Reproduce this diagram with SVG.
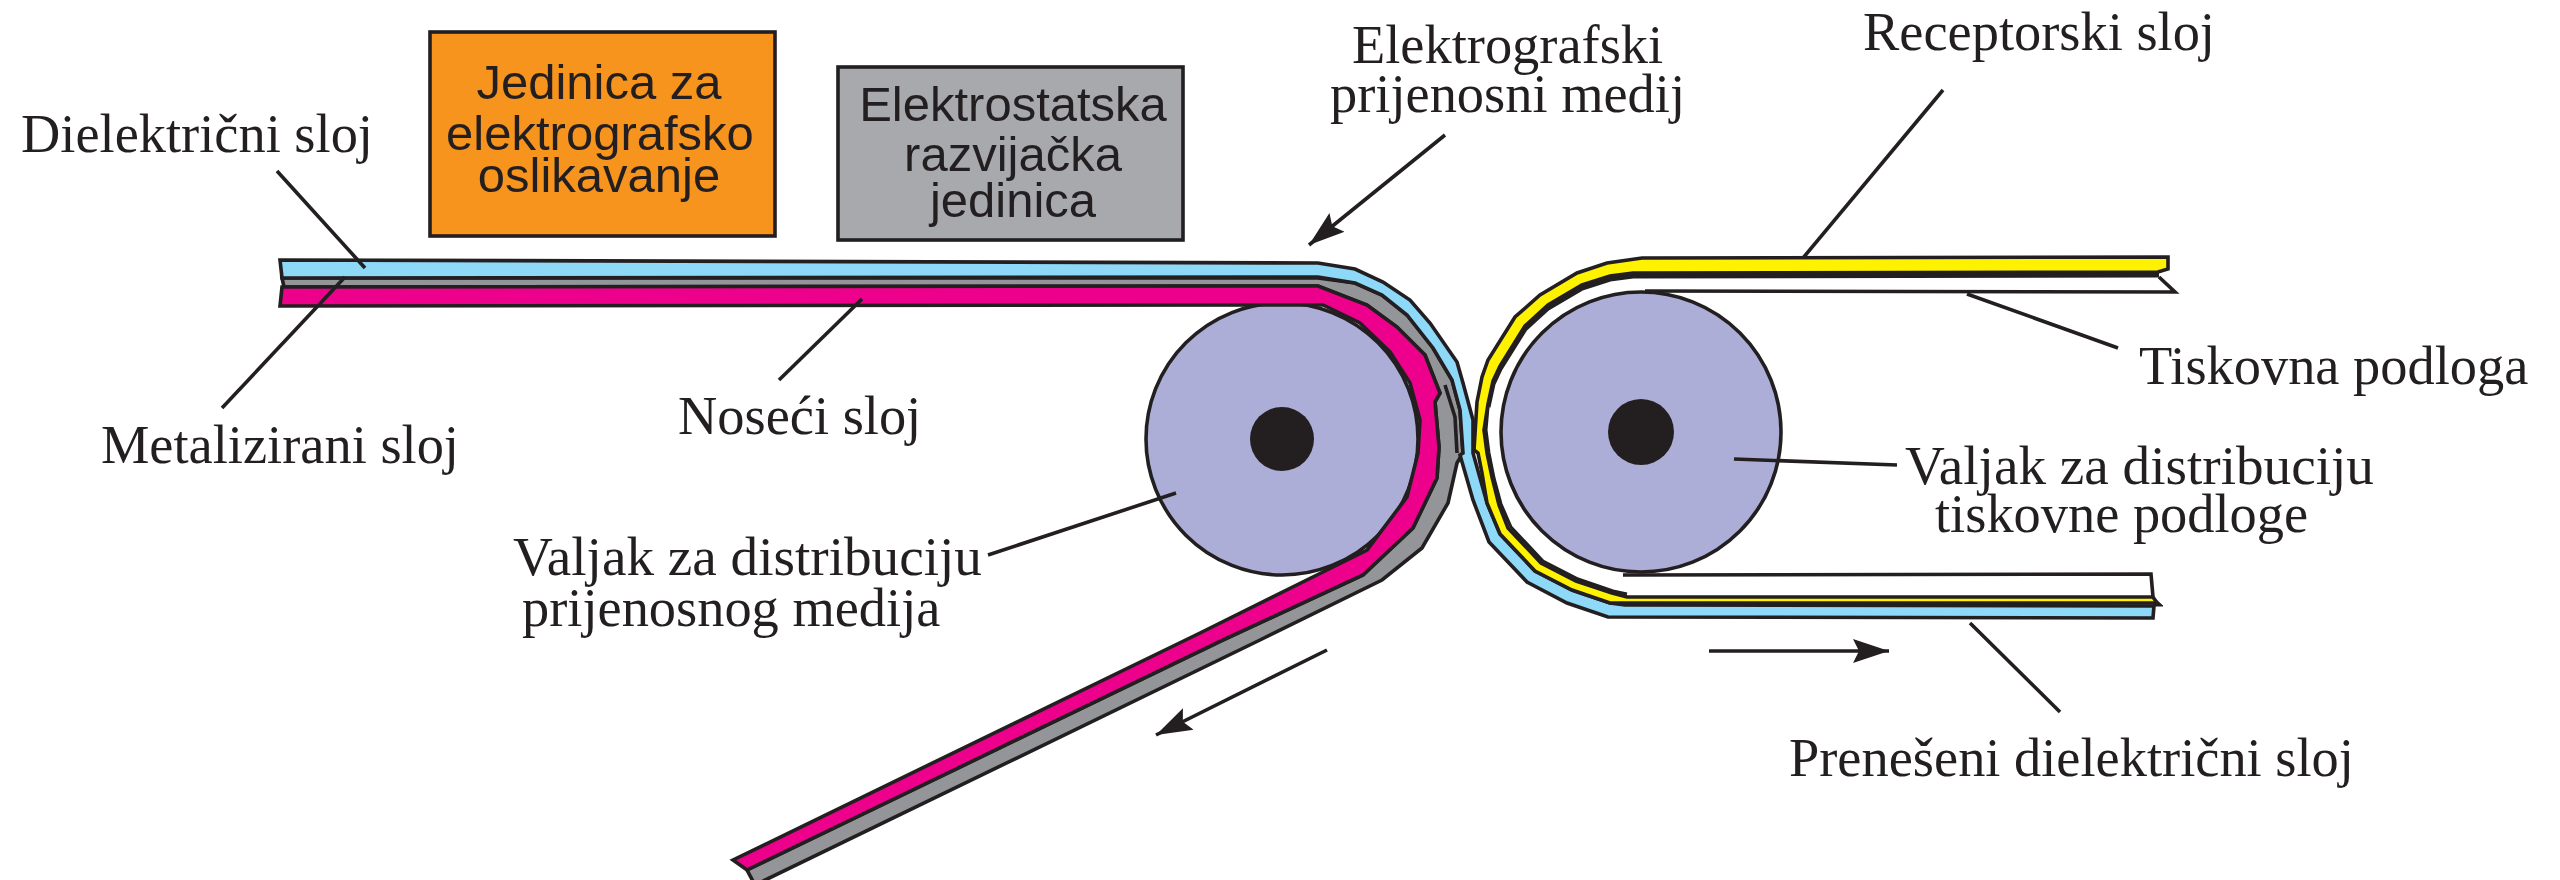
<svg xmlns="http://www.w3.org/2000/svg" width="2560" height="880" viewBox="0 0 2560 880">
<style>
.l{fill:none;stroke:#231f20;stroke-width:3.6;stroke-linejoin:miter}
.b{stroke:#231f20;stroke-width:3.6;stroke-linejoin:miter}
.t{font-family:"Liberation Serif","Times New Roman",serif;font-size:54.4px;fill:#231f20}
.v{font-size:55.2px}
.s{font-family:"Liberation Sans",Arial,sans-serif;font-size:49px;fill:#231f20;text-anchor:middle}
.ld{fill:none;stroke:#231f20;stroke-width:3.6}
</style>
<defs>
<marker id="ah" markerUnits="userSpaceOnUse" markerWidth="40" markerHeight="30" refX="36" refY="12" orient="auto" viewBox="0 0 40 24"><path d="M0 0L36 12L0 24L6 12Z" fill="#231f20"/></marker>
</defs>
<rect width="2560" height="880" fill="#fff"/>
<g id="jedinica-oslikavanje">
<rect class="b" x="430" y="32" width="345" height="204" fill="#f7941d"/>
<text class="s" x="599" y="99">Jedinica za</text>
<text class="s" x="600" y="150">elektrografsko</text>
<text class="s" x="599" y="192">oslikavanje</text>
</g>
<g id="jedinica-razvijacka">
<rect class="b" x="838" y="67" width="345" height="173" fill="#a7a9ac"/>
<text class="s" x="1013" y="121">Elektrostatska</text>
<text class="s" x="1013" y="171">razvijačka</text>
<text class="s" x="1013" y="217">jedinica</text>
</g>
<g id="valjak-lijevi">
<circle class="b" cx="1282" cy="439" r="136" fill="#acaed8"/>
<circle cx="1282" cy="439" r="32" fill="#231f20"/>
</g>
<g id="valjak-desni">
<circle class="b" cx="1641" cy="432" r="140" fill="#acaed8"/>
<circle cx="1641" cy="432" r="33" fill="#231f20"/>
</g>
<g id="prijenosni-medij">
<polygon class="b" fill="#939598" points="282,278 1318,278 1355,283 1382,295 1407,315 1433,348 1452,380 1460,410 1463,453 1457,463 1448,503 1422,548 1382,580 1260,640 755,885 747,870 1223,640 1363,575 1413,528 1437,478 1439,447 1435,402 1440,393 1425,355 1397,327 1367,305 1318,286 284,287"/>
<polygon class="b" fill="#ec008c" points="282,287 1318,286 1367,305 1397,327 1425,355 1440,393 1435,402 1439,447 1437,478 1413,528 1363,575 1223,640 747,870 733,860 1200,633 1327,570 1367,550 1407,497 1418,453 1420,420 1410,383 1390,352 1360,323 1323,305 280,306"/>
<path class="l" d="M1445 385L1455 417L1457 453"/>
<polygon class="b" fill="#8ed8f8" points="280,260 1318,263 1355,269 1383,282 1410,300 1430,323 1457,362 1463,383 1473,420 1473,453 1487,503 1500,534 1535,571 1572,590 1610,603 1625,605 2154,606 2153,618 1608,617 1567,603 1527,582 1489,542 1473,500 1460,455 1463,453 1460,410 1452,380 1433,348 1407,315 1382,295 1355,283 1318,277 282,278"/>
</g>
<g id="tiskovna-podloga">
<path class="l" d="M1623 575L2151 574L2153 597M1645 291L2175 292L2159 277"/>
<path d="M2153 597L2163 606L2154 606Z" fill="#231f20" stroke="#231f20"/>
<path d="M2159 275L1633 276L1610 279L1582 288L1548 308L1525 329L1500 369L1493 384L1488 407" fill="none" stroke="#231f20" stroke-width="5"/>
<path d="M1488 407L1486 430L1489 453L1494 478L1501 504L1511 527L1543 561L1578 579L1613 591L1627 594" fill="none" stroke="#231f20" stroke-width="3"/>
<polygon class="b" fill="#fff200" points="2168,257 1642,258 1607,263 1577,273 1540,295 1515,317 1488,360 1482,377 1477,402 1474,450 1478,453 1482,473 1487,503 1500,534 1535,571 1572,590 1610,603 1625,603 2157,603 2153,597 1627,597 1612,593 1576,581 1541,563 1508,528 1499,505 1492,477 1487,453 1484,430 1488,404 1493,381 1500,366 1525,326 1548,305 1582,285 1610,276 1633,273 2158,272 2168,269"/>
</g>
<g id="konektori">
<path class="ld" d="M277 171L365 268"/>
<path class="ld" d="M222 408L345 277"/>
<path class="ld" d="M779 380L862 299"/>
<path class="ld" d="M988 555L1176 493"/>
<path class="ld" d="M1943 90L1803 258"/>
<path class="ld" d="M2118 348L1967 294"/>
<path class="ld" d="M1897 465L1734 459"/>
<path class="ld" d="M2060 712L1970 623"/>
<path class="ld" marker-end="url(#ah)" d="M1445 135L1309 245"/>
<path class="ld" marker-end="url(#ah)" d="M1327 650L1156 735"/>
<path class="ld" marker-end="url(#ah)" d="M1709 651L1889 651"/>
</g>
<g id="oznake">
<text class="t" x="21" y="152">Dielektrični sloj</text>
<text class="t" x="101" y="463">Metalizirani sloj</text>
<text class="t" x="678" y="434">Noseći sloj</text>
<text class="t v" x="513" y="575">Valjak za distribuciju</text>
<text class="t" x="522" y="626">prijenosnog medija</text>
<text class="t" x="1352" y="63">Elektrografski</text>
<text class="t" x="1330" y="112">prijenosni medij</text>
<text class="t" x="1863" y="50">Receptorski sloj</text>
<text class="t" x="2139" y="384">Tiskovna podloga</text>
<text class="t v" x="1905" y="484">Valjak za distribuciju</text>
<text class="t" x="1935" y="532">tiskovne podloge</text>
<text class="t" x="1789" y="776">Prenešeni dielektrični sloj</text>
</g>
</svg>
